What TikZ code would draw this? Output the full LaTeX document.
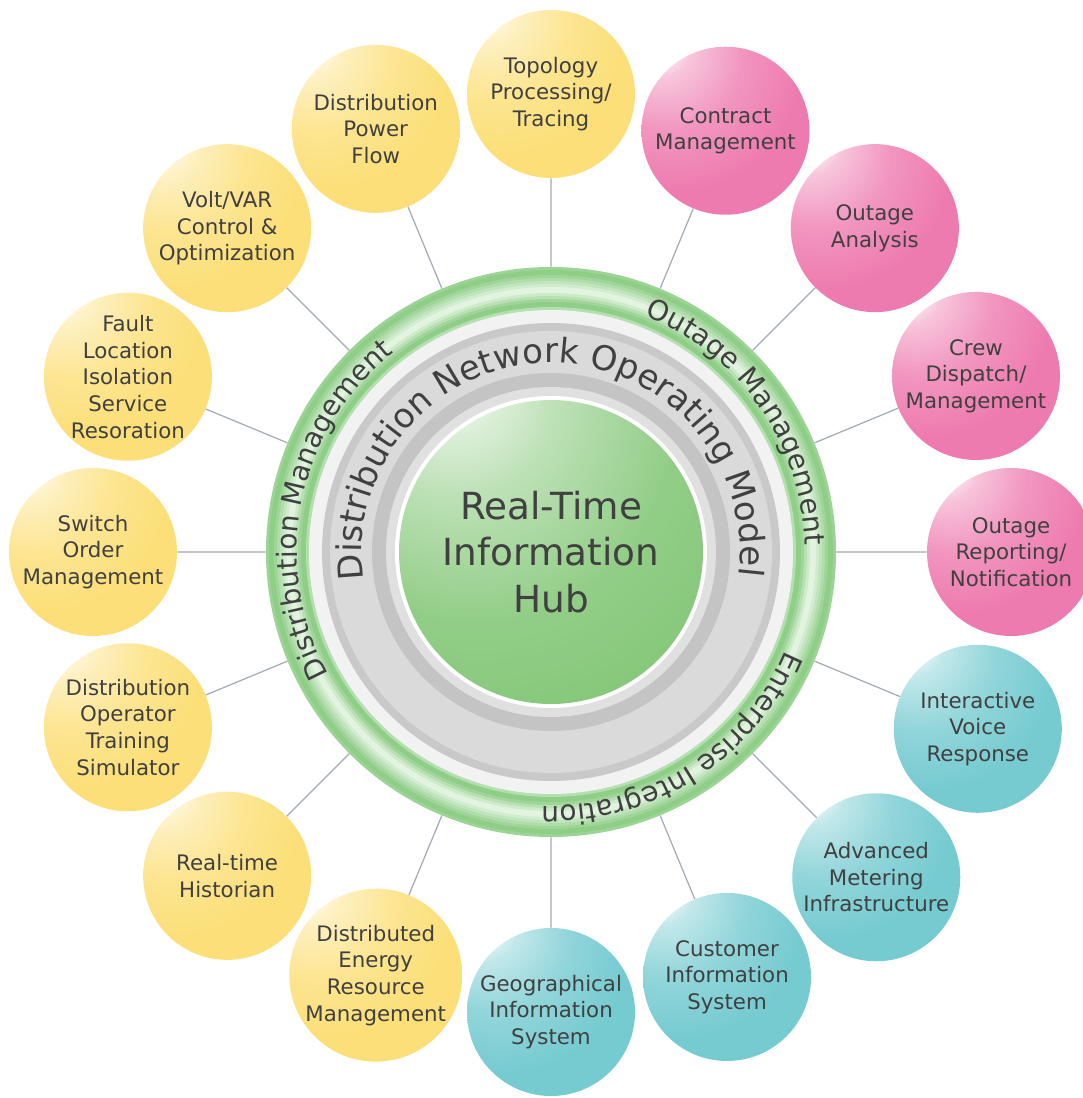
\documentclass[tikz,border=0pt]{standalone}
\usepackage{fontspec}
\setmainfont{DejaVu Sans}
\usetikzlibrary{decorations.text}

\definecolor{txtgray}{HTML}{404040}
\definecolor{ballyellow}{HTML}{FCDF78}
\definecolor{ballpink}{HTML}{EE7BAF}
\definecolor{ballcyan}{HTML}{76CBD1}
\definecolor{hubgreen}{HTML}{86C87A}
\definecolor{ringgreen}{HTML}{8ECE87}
\definecolor{ringlight}{HTML}{E2F3DF}
\definecolor{gapgray}{HTML}{F2F2F2}
\definecolor{graydark}{HTML}{C9C9C9}
\definecolor{graymid}{HTML}{DADADA}
\definecolor{graylow}{HTML}{C4C4C4}
\definecolor{grayfaint}{HTML}{E0E0E0}
\definecolor{spokegray}{HTML}{A2AAB2}

\pgfdeclareradialshading{yshade}{\pgfpoint{-22bp}{28bp}}{color(0bp)=(white); color(3bp)=(white); color(10bp)=(ballyellow!45!white); color(22bp)=(ballyellow!80!white); color(36bp)=(ballyellow); color(100bp)=(ballyellow)}
\pgfdeclareradialshading{pshade}{\pgfpoint{-22bp}{28bp}}{color(0bp)=(white); color(3bp)=(white); color(10bp)=(ballpink!45!white); color(22bp)=(ballpink!80!white); color(36bp)=(ballpink); color(100bp)=(ballpink)}
\pgfdeclareradialshading{cshade}{\pgfpoint{-22bp}{28bp}}{color(0bp)=(white); color(3bp)=(white); color(10bp)=(ballcyan!45!white); color(22bp)=(ballcyan!80!white); color(36bp)=(ballcyan); color(100bp)=(ballcyan)}
\pgfdeclareradialshading{hubshade}{\pgfpoint{-18bp}{30bp}}{color(0bp)=(white); color(4bp)=(hubgreen!15!white); color(16bp)=(hubgreen!55!white); color(32bp)=(hubgreen!90!white); color(45bp)=(hubgreen); color(100bp)=(hubgreen)}

\newcommand\netfont{\fontsize{25.5}{25.5}\selectfont\color{txtgray}}
\newcommand\ringfont{\fontsize{21}{21}\selectfont\color{txtgray}}

\tikzset{
	ball/.style={circle, minimum size=126pt, inner sep=0pt, align=center, text=txtgray,
			font=\fontsize{16}{20}\selectfont, shade},
	yball/.style={ball, shading=yshade},
	pball/.style={ball, shading=pshade},
	cball/.style={ball, shading=cshade},
	spoke/.style={draw=spokegray, line width=0.9pt},
	ringtext/.style={decorate, decoration={text along path, text align=center, text={|\ringfont|#1}}}
}

\begin{document}
\begin{tikzpicture}[x=0.75pt, y=0.75pt]
		\fill[white] (-551,-546) rectangle (531,552);
		\useasboundingbox (-551,-546) rectangle (531,552);

		% green ring, white gap, gray bands
		\node[circle, minimum size=427.5pt, inner sep=0pt, fill=ringgreen!85!ringlight] (ring) at (0,0) {};
		\fill[ringgreen] (0,0) circle (282);
		\fill[ringgreen!80!ringlight] (0,0) circle (277);
		\fill[ringgreen!60!ringlight] (0,0) circle (274);
		\fill[ringgreen!40!ringlight] (0,0) circle (271);
		\fill[ringgreen!20!ringlight] (0,0) circle (268);
		\fill[ringlight] (0,0) circle (265);
		\fill[ringgreen!25!ringlight] (0,0) circle (259);
		\fill[ringgreen!50!ringlight] (0,0) circle (256);
		\fill[ringgreen!80!ringlight] (0,0) circle (253);
		\fill[ringgreen] (0,0) circle (250);
		\fill[ringgreen!55!ringlight] (0,0) circle (245);
		\fill[gapgray] (0,0) circle (242);
		\fill[graydark] (0,0) circle (229);
		\fill[graymid] (0,0) circle (221);
		\fill[graylow] (0,0) circle (179);
		\fill[grayfaint] (0,0) circle (165);
		\fill[white] (0,0) circle (156);

		\node[circle, minimum size=228pt, inner sep=0pt, shade, shading=hubshade, align=center,
			text=txtgray, font=\fontsize{28}{35}\selectfont] (hub) at (0,0) {Real-Time\\Information\\Hub};

		\path[decorate, decoration={text along path, text align=center,
					text={|\netfont|Distribution Network Operating Model}}]
			(200:189) arc[start angle=200, end angle=-19, radius=189];
		\path[ringtext=Distribution Management] (218:254) arc[start angle=218, end angle=119, radius=254];
		\path[ringtext=Outage Management] (85:254) arc[start angle=85, end angle=-15, radius=254];
		\path[ringtext=Enterprise Integration] (-7:254) arc[start angle=-7, end angle=-108, radius=254];

		\node[yball] (topo) at (90:458) {Topology\\Processing/\\Tracing};
		\node[yball] (flow) at (112.5:458) {Distribution\\Power\\Flow};
		\node[yball] (volt) at (135:458) {Volt/VAR\\Control \&\\Optimization};
		\node[yball] (fault) at (157.5:458) {Fault\\Location\\Isolation\\Service\\Resoration};
		\node[yball] (switch) at (180:458) {Switch\\Order\\Management};
		\node[yball] (dots) at (202.5:458) {Distribution\\Operator\\Training\\Simulator};
		\node[yball] (hist) at (225:458) {Real-time\\Historian};
		\node[yball] (derm) at (247.5:458) {Distributed\\Energy\\Resource\\Management};
		\node[cball] (gis) at (270:460) {Geographical\\Information\\System};
		\node[cball] (cis) at (292.5:460) {Customer\\Information\\System};
		\node[cball] (ami) at (315:460) {Advanced\\Metering\\Infrastructure};
		\node[cball] (ivr) at (337.5:462) {Interactive\\Voice\\Response};
		\node[pball] (report) at (0:460) {Outage\\Reporting/\\Notification};
		\node[pball] (crew) at (22.5:460) {Crew\\Dispatch/\\Management};
		\node[pball] (analysis) at (45:458) {Outage\\Analysis};
		\node[pball] (contract) at (67.5:456) {Contract\\Management};

		\draw[spoke] (topo) -- (ring) (flow) -- (ring) (volt) -- (ring) (fault) -- (ring)
			(switch) -- (ring) (dots) -- (ring) (hist) -- (ring) (derm) -- (ring)
			(gis) -- (ring) (cis) -- (ring) (ami) -- (ring) (ivr) -- (ring)
			(report) -- (ring) (crew) -- (ring) (analysis) -- (ring) (contract) -- (ring);
	\end{tikzpicture}
\end{document}
